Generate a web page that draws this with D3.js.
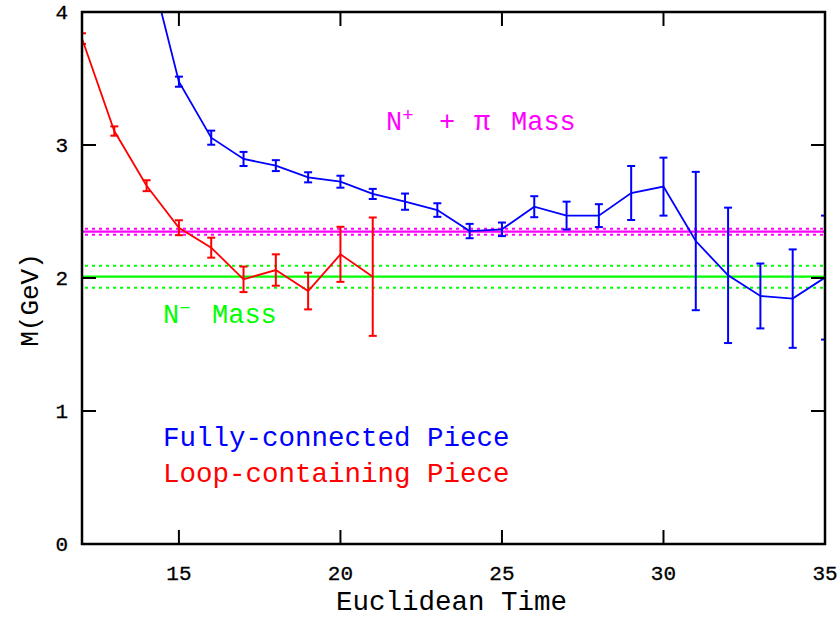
<!DOCTYPE html>
<html><head><meta charset="utf-8">
<script src="https://cdn.jsdelivr.net/npm/d3@7"></script>
<style>body{margin:0;background:#fff}svg{display:block}</style>
</head><body>
<script>
// ---- data ----
const timesBlue = [14,15,16,17,18,19,20,21,22,23,24,25,26,27,28,29,30,31,32,33,34,35];
const massBlue  = [4.44,3.476,3.055,2.895,2.845,2.757,2.724,2.632,2.574,2.511,2.353,2.366,2.536,2.469,2.469,2.639,2.687,2.278,2.020,1.865,1.845,2.003];
const errBlue   = [0.05,0.038,0.053,0.053,0.041,0.038,0.045,0.038,0.061,0.051,0.054,0.051,0.079,0.105,0.086,0.203,0.218,0.52,0.509,0.244,0.37,0.466];
const timesRed  = [12,13,14,15,16,17,18,19,20,21];
const massRed   = [3.80,3.105,2.694,2.378,2.228,1.990,2.060,1.902,2.178,2.010];
const errRed    = [0.04,0.035,0.041,0.056,0.075,0.096,0.118,0.138,0.207,0.445];
const nPlusPi   = {center:2.348, upper:2.371, lower:2.326};
const nMinus    = {center:2.010, upper:2.092, lower:1.927};
const xTicks = [15,20,25,30,35];
const yTicks = [0,1,2,3,4];
const xLabel = "Euclidean Time";
const yLabel = "M(GeV)";

// ---- layout ----
const W=840,H=617;
const L=82,R=825,T=12,B=544;
const FONT="'Liberation Mono', 'DejaVu Sans Mono', monospace";
const svg=d3.select("body").append("svg").attr("width",W).attr("height",H);
const x=d3.scaleLinear().domain([12,35]).range([L,R]);
const y=d3.scaleLinear().domain([0,4]).range([B,T]);

svg.append("defs").append("clipPath").attr("id","clip")
  .append("rect").attr("x",L).attr("y",T).attr("width",R-L).attr("height",B-T);
const g=svg.append("g").attr("clip-path","url(#clip)");

// reference bands
function band(obj,color){
  g.append("line").attr("x1",L).attr("x2",R).attr("y1",y(obj.center)).attr("y2",y(obj.center))
    .attr("stroke",color).attr("stroke-width",2.2);
  [obj.upper,obj.lower].forEach(v=>{
    g.append("line").attr("x1",L+3).attr("x2",R).attr("y1",y(v)).attr("y2",y(v))
      .attr("stroke",color).attr("stroke-width",2).attr("stroke-dasharray","3,4");
  });
}
band(nPlusPi,"#ff00ff");
band(nMinus,"#00ff00");

function series(xs,ms,es,color){
  const data=xs.map((t,i)=>({t,m:ms[i],e:es[i]}));
  g.append("path").datum(data)
    .attr("d",d3.line().x(d=>x(d.t)).y(d=>y(d.m)))
    .attr("fill","none").attr("stroke",color).attr("stroke-width",1.8);
  const cw=4;
  const eb=g.append("g").attr("stroke",color).attr("stroke-width",2);
  data.forEach(d=>{
    const xc=x(d.t),y1=y(d.m+d.e),y2=y(d.m-d.e);
    eb.append("line").attr("x1",xc).attr("x2",xc).attr("y1",y1).attr("y2",y2);
    eb.append("line").attr("x1",xc-cw).attr("x2",xc+cw).attr("y1",y1).attr("y2",y1);
    eb.append("line").attr("x1",xc-cw).attr("x2",xc+cw).attr("y1",y2).attr("y2",y2);
  });
}
series(timesRed,massRed,errRed,"#ff0000");
series(timesBlue,massBlue,errBlue,"#0000ff");

// frame + ticks (inward)
const ax=svg.append("g").attr("stroke","#000");
ax.append("rect").attr("x",L).attr("y",T).attr("width",R-L).attr("height",B-T)
  .attr("fill","none").attr("stroke-width",2.5);
const tl=14;
xTicks.forEach(v=>{
  ax.append("line").attr("x1",x(v)).attr("x2",x(v)).attr("y1",B).attr("y2",B-tl).attr("stroke-width",2);
  ax.append("line").attr("x1",x(v)).attr("x2",x(v)).attr("y1",T).attr("y2",T+tl).attr("stroke-width",2);
});
yTicks.forEach(v=>{
  ax.append("line").attr("x1",L).attr("x2",L+tl).attr("y1",y(v)).attr("y2",y(v)).attr("stroke-width",2);
  ax.append("line").attr("x1",R).attr("x2",R-tl).attr("y1",y(v)).attr("y2",y(v)).attr("stroke-width",2);
});

// tick labels
const tf=svg.append("g").attr("font-family",FONT).attr("font-size",21).attr("fill","#000")
  .attr("stroke","#000").attr("stroke-width",0.3);
xTicks.forEach(v=>{
  tf.append("text").attr("x",x(v)).attr("y",580).attr("text-anchor","middle").text(v);
});
yTicks.forEach(v=>{
  tf.append("text").attr("x",68).attr("y",y(v)+7).attr("text-anchor","end").text(v);
});

// axis titles
svg.append("text").attr("x",(L+R)/2-2).attr("y",610).attr("text-anchor","middle")
  .attr("font-family",FONT).attr("font-size",27.5).text(xLabel);
svg.append("text").attr("transform","translate(38,300) rotate(-90)").attr("text-anchor","middle")
  .attr("font-family",FONT).attr("font-size",26).text(yLabel);

// annotations
const t1=svg.append("text").attr("y",130).attr("font-family",FONT)
  .attr("font-size",27).attr("fill","#ff00ff");
t1.append("tspan").attr("x",386).text("N");
t1.append("tspan").attr("dy",-9).attr("font-size",19).text("+");
t1.append("tspan").attr("dy",9).attr("x",439).text("+");
t1.append("tspan").attr("x",474).text("π");
t1.append("tspan").attr("x",511).text("Mass");

const t2=svg.append("text").attr("y",323).attr("font-family",FONT)
  .attr("font-size",27).attr("fill","#00ff00");
t2.append("tspan").attr("x",163).text("N");
t2.append("tspan").attr("dy",-9).attr("font-size",19).text("−");
t2.append("tspan").attr("dy",9).attr("x",212).text("Mass");

svg.append("text").attr("x",163).attr("y",446).attr("font-family",FONT)
  .attr("font-size",27.5).attr("fill","#0000ff").text("Fully-connected Piece");
svg.append("text").attr("x",163).attr("y",482).attr("font-family",FONT)
  .attr("font-size",27.5).attr("fill","#ff0000").text("Loop-containing Piece");
</script>
</body></html>
